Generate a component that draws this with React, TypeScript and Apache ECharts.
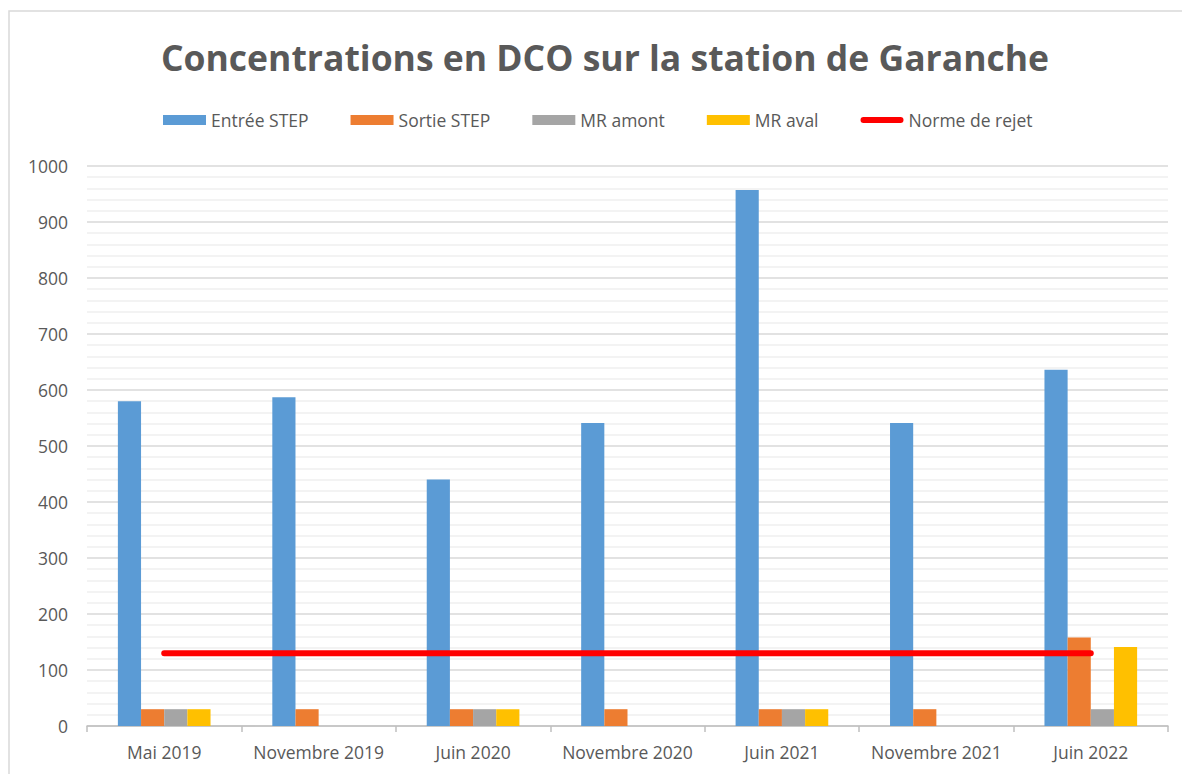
import React, { useEffect, useRef } from "react";
import * as echarts from "echarts";

const categories = ["Mai 2019", "Novembre 2019", "Juin 2020", "Novembre 2020", "Juin 2021", "Novembre 2021", "Juin 2022"];
const entreeStep = [580, 587, 440, 541, 957, 541, 636];
const sortieStep = [30, 30, 30, 30, 30, 30, 158];
const mrAmont: (number | null)[] = [30, null, 30, null, 30, null, 30];
const mrAval: (number | null)[] = [30, null, 30, null, 30, null, 141];
const normeRejet = [130, 130, 130, 130, 130, 130, 130];

const FONT = "'Open Sans', sans-serif";
const TXT = "#595959";
const LINE_ICON = "path://M0,0 M0,10 M3,2 H40 A3,3 0 0 1 40,8 H3 A3,3 0 0 1 3,2 Z M43,0";

export default function App() {
  const ref = useRef<HTMLDivElement>(null);
  useEffect(() => {
    if (!ref.current) return;
    const chart = echarts.init(ref.current, null, { renderer: "svg" });
    chart.setOption({
      animation: false,
      backgroundColor: "#ffffff",
      title: {
        text: "Concentrations en DCO sur la station de Garanche",
        left: 600,
        textAlign: "center",
        top: 34,
        textStyle: { fontFamily: FONT, fontWeight: "bold", fontSize: 35.5, color: TXT },
      },
      graphic: [
        {
          type: "rect",
          shape: { x: 9, y: 11, width: 1200, height: 800 },
          style: { fill: "none", stroke: "#d9d9d9", lineWidth: 1.5 },
          silent: true,
        },
      ],
      legend: {
        top: 106,
        left: 158,
        itemWidth: 43,
        itemHeight: 10,
        itemGap: 42,
        textStyle: { fontFamily: FONT, fontSize: 17.5, color: TXT },
        data: [
          { name: "Entrée STEP", icon: "rect" },
          { name: "Sortie STEP", icon: "rect" },
          { name: "MR amont", icon: "rect" },
          { name: "MR aval", icon: "rect" },
          { name: "Norme de rejet", icon: LINE_ICON, itemStyle: { color: "#FF0000" } },
        ],
      },
      grid: { left: 87, right: 14, top: 166, bottom: 48, containLabel: false },
      xAxis: {
        type: "category",
        data: categories,
        axisLine: { lineStyle: { color: "#bfbfbf", width: 1.5 } },
        axisTick: { show: true, length: 6, lineStyle: { color: "#bfbfbf", width: 1.5 } },
        axisLabel: { fontFamily: FONT, fontSize: 17.5, color: TXT, margin: 17, interval: 0 },
      },
      yAxis: {
        type: "value",
        min: 0,
        max: 1000,
        interval: 100,
        axisLine: { show: false },
        axisTick: { show: false },
        axisLabel: { fontFamily: FONT, fontSize: 17.5, color: TXT, margin: 19, formatter: (v: number) => String(v) },
        splitLine: { lineStyle: { color: "#d9d9d9", width: 1.5 } },
        minorTick: { show: false, splitNumber: 5 },
        minorSplitLine: { show: true, lineStyle: { color: "#efefef", width: 1.5 } },
      },
      series: [
        { name: "Entrée STEP", type: "bar", data: entreeStep, itemStyle: { color: "#5B9BD5" }, barGap: "0%", barCategoryGap: "40%" },
        { name: "Sortie STEP", type: "bar", data: sortieStep, itemStyle: { color: "#ED7D31" } },
        { name: "MR amont", type: "bar", data: mrAmont, itemStyle: { color: "#A5A5A5" } },
        { name: "MR aval", type: "bar", data: mrAval, itemStyle: { color: "#FFC000" } },
        {
          name: "Norme de rejet",
          type: "line",
          data: normeRejet,
          symbol: "none",
          z: 5,
          itemStyle: { color: "#FF0000" },
          lineStyle: { color: "#FF0000", width: 6, cap: "round" },
        },
      ],
    });
    return () => chart.dispose();
  }, []);
  return <div ref={ref} style={{ position: "fixed", left: 0, top: 0, width: 1182, height: 774 }} />;
}
